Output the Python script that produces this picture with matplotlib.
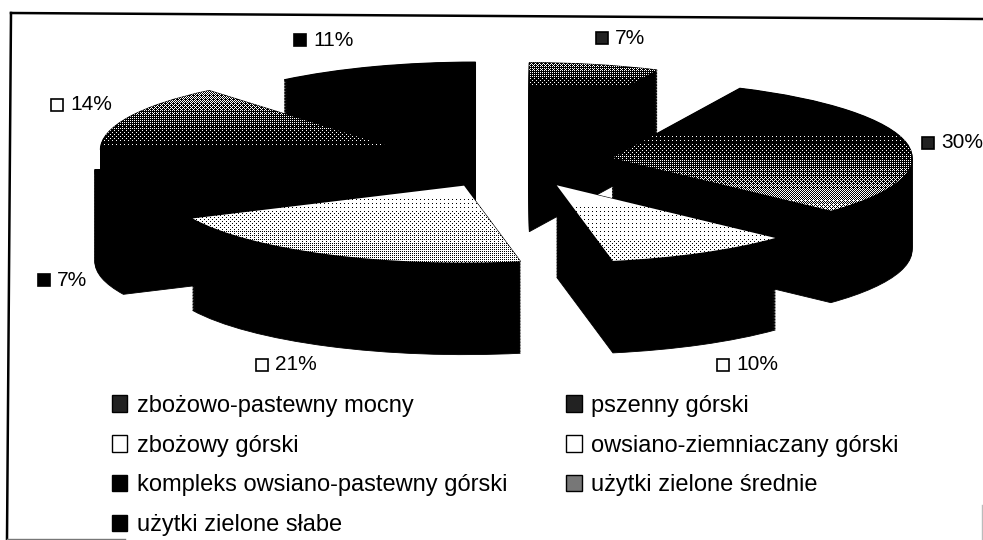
"""Exploded 3D-look pie of soil complexes, rebuilt from a scanned figure."""
import numpy as np
import matplotlib
matplotlib.use("Agg")
import matplotlib.pyplot as plt
from matplotlib.patches import Patch
from matplotlib.transforms import Affine2D

# ── Data ────────────────────────────────────────────────────────────────
CATEGORIES = ["zbożowo-pastewny mocny", "pszenny górski", "zbożowy górski",
              "owsiano-ziemniaczany górski", "kompleks owsiano-pastewny górski",
              "użytki zielone średnie", "użytki zielone słabe"]
VALUES = [7, 30, 10, 21, 7, 14, 11]
LABELS = ["7%", "30%", "10%", "21%", "7%", "14%", "11%"]

# ── Style ───────────────────────────────────────────────────────────────
W, H = 983, 540
X_UNIT, Y_UNIT = 300, 77     # pixels per pie radius, the squash gives the tilt
CX, CY = 509, 163            # pie centre in pixels
DEPTH = 92                   # wall height in pixels
EXPLODE = [0.31, 0.35, 0.33, 0.33, 0.39, 0.40, 0.33]
DRAW_RANK = [2, 3, 5, 6, 4, 1, 0]   # back to front
# top face shading: (y pixel, grey) stops
SHADE = [[(58, 0.45), (90, 0.0)], [(130, 0.0), (150, 0.12), (215, 0.7)],
         [(188, 1.0), (270, 0.85)], [(188, 1.0), (265, 0.7)],
         None, [(85, 0.55), (150, 0.0)], None]
KEY_COLORS = ["#222222", "#222222", "white", "white", "black", "#777777", "black"]
LABEL_KEY_COLORS = ["#222222", "#222222", "white", "white", "black", "white", "black"]
LABEL_POS = [(615, 38), (941, 143), (736, 365), (275, 365), (57, 280), (70, 105), (313, 40)]
FONT = ["Liberation Sans", "DejaVu Sans"]

BAYER = np.array([[0, 8, 2, 10], [12, 4, 14, 6], [3, 11, 1, 9], [15, 7, 13, 5]]) / 16 + 1 / 32


def shaded_face(ax, wedge, stops, zorder, extent):
    """Dithered vertical gradient clipped to one top face."""
    ys, greys = zip(*stops)
    grad = np.interp(np.arange(H), ys, greys)[:, None].repeat(W, axis=1)
    tile = np.tile(BAYER, (H // 4 + 1, W // 4 + 1))[:H, :W]
    im = ax.imshow(grad > tile, extent=extent, aspect="auto", cmap="gray", vmin=0, vmax=1,
                   interpolation="nearest", zorder=zorder)
    im.set_clip_path(wedge)


def main():
    fig = plt.figure(figsize=(W / 100, H / 100), dpi=100, facecolor="white")
    ax = fig.add_axes([0, 0, 1, 1])
    xlim = (-CX / X_UNIT, (W - CX) / X_UNIT)
    ylim = (-(H - CY) / Y_UNIT, CY / Y_UNIT)
    extent = (xlim[0], xlim[1], ylim[0], ylim[1])
    px = Affine2D().scale(1, -1).translate(0, H)

    # Walls: the same pie stacked downwards
    for off in np.arange(DEPTH, 0, -1.5):
        wedges, _ = ax.pie(VALUES, explode=EXPLODE, center=(0, -off / Y_UNIT), radius=1,
                           startangle=90, counterclock=False)
        for w, rank in zip(wedges, DRAW_RANK):
            w.set(facecolor="black", edgecolor="black", linewidth=0.6, zorder=2 + rank)

    # Top faces
    wedges, _ = ax.pie(VALUES, explode=EXPLODE, center=(0, 0), radius=1,
                       startangle=90, counterclock=False)
    for w, rank, stops in zip(wedges, DRAW_RANK, SHADE):
        w.set(facecolor="black", edgecolor="black", linewidth=0.8, zorder=2.3 + rank)
        if stops:
            shaded_face(ax, w, stops, 2.6 + rank, extent)

    ax.set_aspect("auto")
    ax.set_xlim(xlim)
    ax.set_ylim(ylim)
    ax.axis("off")

    # Data labels with their small keys
    for text, (x, y), color in zip(LABELS, LABEL_POS, LABEL_KEY_COLORS):
        ax.text(x, y, text, transform=px, ha="left", va="center", fontsize=15,
                family=FONT, color="black", zorder=20)
        ax.plot([x - 13], [y], transform=px, marker="s", markersize=8.5, markerfacecolor=color,
                markeredgecolor="black", markeredgewidth=1.2, linestyle="none",
                clip_on=False, zorder=20)

    # Scanned frame: slightly skewed, no right side, fading bottom
    ax.plot([11, 983], [13, 19], transform=px, color="black", lw=1.8, clip_on=False, zorder=1)
    ax.plot([11, 7], [13, 539], transform=px, color="black", lw=1.8, clip_on=False, zorder=1)
    ax.plot([7, 125], [539, 539], transform=px, color="#777777", lw=1.0, clip_on=False, zorder=1)
    ax.plot([982, 982], [505, 540], transform=px, color="#bbbbbb", lw=1.0, clip_on=False, zorder=1)

    # Legend fills columns first, the picture reads by rows
    order = [0, 2, 4, 6, 1, 3, 5]
    handles = [Patch(facecolor=KEY_COLORS[i], edgecolor="black", linewidth=1) for i in order]
    ax.legend(handles, [CATEGORIES[i] for i in order], ncols=2, frameon=False,
              loc="upper left", bbox_to_anchor=(112 / W, 1 - 395 / H),
              prop={"family": FONT, "size": 17}, handlelength=0.65, handleheight=0.7,
              handletextpad=0.4, labelspacing=0.75, columnspacing=2.5,
              borderaxespad=0, borderpad=0)

    fig.savefig("out.png", dpi=100)


if __name__ == "__main__":
    main()
